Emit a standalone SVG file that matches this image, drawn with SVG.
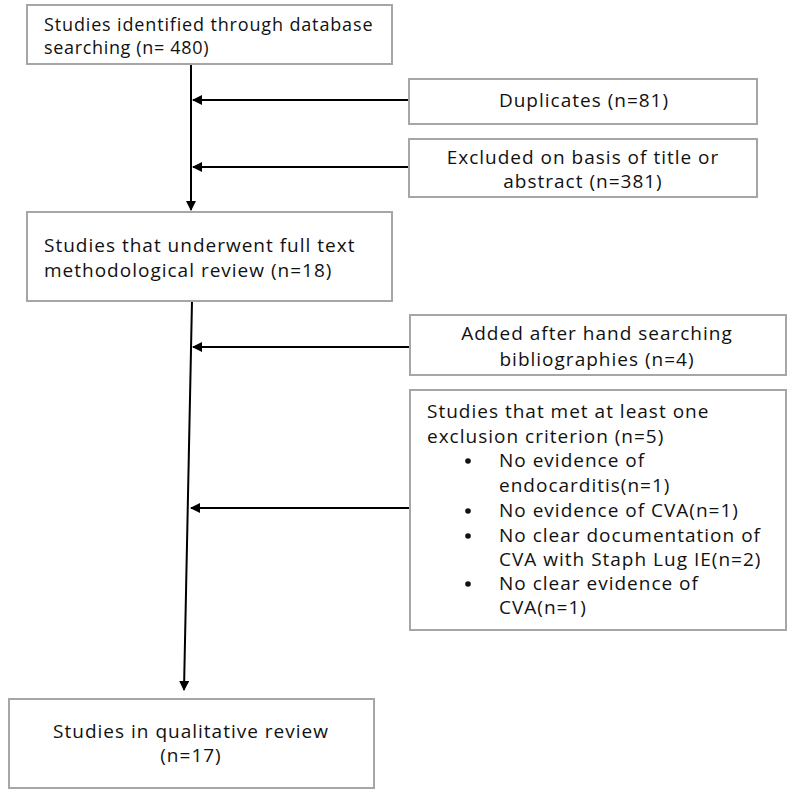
<svg xmlns="http://www.w3.org/2000/svg" width="800" height="800" viewBox="0 0 800 800">
<style>
.box{fill:#fff;stroke:#a6a6a6;stroke-width:2}
text{font-family:"Open Sans","Noto Sans",sans-serif;font-size:19px;letter-spacing:1px;fill:#111}
.c{text-anchor:middle}
.s18{font-size:18px;letter-spacing:0.5px}
.ln{stroke:#000;stroke-width:2;fill:none}
</style>
<defs>
<marker id="ah" viewBox="0 0 10 10" refX="9" refY="5" markerWidth="5" markerHeight="5" orient="auto" markerUnits="strokeWidth">
<path d="M0,0 L10,5 L0,10 z" fill="#000"/>
</marker>
</defs>
<rect width="800" height="800" fill="#fff"/>
<g id="connectors">
<line class="ln" x1="191" y1="64" x2="191" y2="210" marker-end="url(#ah)"/>
<line class="ln" x1="409" y1="100" x2="193" y2="100" marker-end="url(#ah)"/>
<line class="ln" x1="409" y1="167" x2="193" y2="167" marker-end="url(#ah)"/>
<line class="ln" x1="192" y1="301" x2="184" y2="690" marker-end="url(#ah)"/>
<line class="ln" x1="410" y1="347" x2="193" y2="347" marker-end="url(#ah)"/>
<line class="ln" x1="410" y1="508" x2="191" y2="508" marker-end="url(#ah)"/>
</g>
<g id="identified">
<rect class="box" x="27" y="5" width="365" height="59"/>
<text class="s18" x="44" y="31" textLength="329" lengthAdjust="spacing">Studies identified through database</text>
<text class="s18" x="44" y="54" textLength="165" lengthAdjust="spacing">searching (n= 480)</text>
</g>
<g id="duplicates">
<rect class="box" x="409" y="79" width="348" height="45"/>
<text class="c" x="584" y="107">Duplicates (n=81)</text>
</g>
<g id="excluded">
<rect class="box" x="409" y="139" width="348" height="58"/>
<text class="c" x="583" y="164">Excluded on basis of title or</text>
<text class="c" x="583" y="188">abstract (n=381)</text>
</g>
<g id="fulltext">
<rect class="box" x="27" y="212" width="365" height="89"/>
<text x="44" y="252">Studies that underwent full text</text>
<text x="44" y="277">methodological review (n=18)</text>
</g>
<g id="added">
<rect class="box" x="410" y="315" width="376" height="60"/>
<text class="c" x="597" y="340">Added after hand searching</text>
<text class="c" x="597" y="366">bibliographies (n=4)</text>
</g>
<g id="exclusion">
<rect class="box" x="410" y="390" width="376" height="240"/>
<text x="427" y="418">Studies that met at least one</text>
<text x="427" y="443">exclusion criterion (n=5)</text>
<circle cx="468" cy="461" r="2.8" fill="#111"/>
<circle cx="468" cy="511" r="2.8" fill="#111"/>
<circle cx="468" cy="536" r="2.8" fill="#111"/>
<circle cx="468" cy="584" r="2.8" fill="#111"/>
<text x="499" y="467">No evidence of</text>
<text x="499" y="492">endocarditis(n=1)</text>
<text x="499" y="517">No evidence of CVA(n=1)</text>
<text x="499" y="542">No clear documentation of</text>
<text x="499" y="566">CVA with Staph Lug IE(n=2)</text>
<text x="499" y="590">No clear evidence of</text>
<text x="499" y="614">CVA(n=1)</text>
</g>
<g id="qualitative">
<rect class="box" x="9" y="699" width="365" height="89"/>
<text class="c" x="191" y="738">Studies in qualitative review</text>
<text class="c" x="191" y="762">(n=17)</text>
</g>
</svg>
